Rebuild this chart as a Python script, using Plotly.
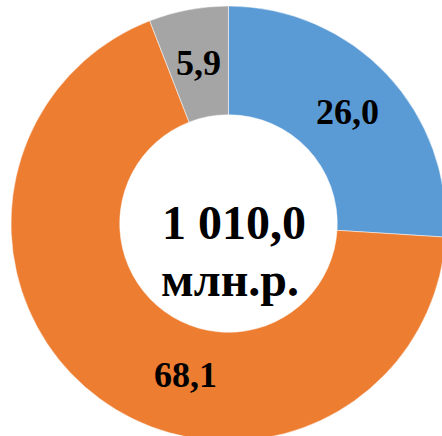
import math
import plotly.graph_objects as go

# доли, %
labels = ["Часть 1", "Часть 2", "Часть 3"]
values = [26.0, 68.1, 5.9]
value_text = ["26,0", "68,1", "5,9"]
colors = ["#5B9BD5", "#ED7D31", "#A5A5A5"]
total_text = ["1 010,0", "млн.р."]

W, H = 460, 450
cx, cy, R = 228.5, 223.5, 217.5
hole = 0.5

fig = go.Figure(go.Pie(
    labels=labels,
    values=values,
    marker=dict(colors=colors, line=dict(color="white", width=0.5)),
    hole=hole,
    sort=False,
    direction="clockwise",
    rotation=0,
    textinfo="none",
    hoverinfo="label+value",
    domain=dict(x=[(cx - R) / W, (cx + R) / W], y=[1 - (cy + R) / H, 1 - (cy - R) / H]),
    showlegend=False,
))


def to_paper(ang, r):
    a = math.radians(ang)
    return (cx + r * math.sin(a)) / W, 1 - (cy - r * math.cos(a)) / H


# подписи в середине кольца; оранжевую Excel сдвинул вручную
shift = {1: (195.7, 157.3)}
start = 0
tot = sum(values)
for i, v in enumerate(values):
    mid = (start + v / 2) / tot * 360
    start += v
    ang, r = shift.get(i, (mid, R * (1 + hole) / 2))
    x, y = to_paper(ang, r)
    fig.add_annotation(x=x, y=y, xref="paper", yref="paper", text=value_text[i],
                       showarrow=False, xanchor="center", yanchor="middle",
                       font=dict(family="Liberation Serif", size=36, color="black", weight="bold"))

fig.add_annotation(x=233.5 / W, y=1 - 222 / H, xref="paper", yref="paper", text=total_text[0],
                   showarrow=False, xanchor="center", yanchor="middle",
                   font=dict(family="Liberation Serif", size=48, color="black", weight="bold"))
fig.add_annotation(x=230 / W, y=1 - 279 / H, xref="paper", yref="paper", text=total_text[1],
                   showarrow=False, xanchor="center", yanchor="middle",
                   font=dict(family="Liberation Serif", size=48, color="black", weight="bold"))

fig.update_layout(
    width=W,
    height=H,
    margin=dict(l=0, r=0, t=0, b=0),
    paper_bgcolor="white",
    plot_bgcolor="white",
)

fig.write_html("out.html", config={"displayModeBar": False},
               post_script="document.body.style.margin='0';document.body.style.overflow='hidden';")
